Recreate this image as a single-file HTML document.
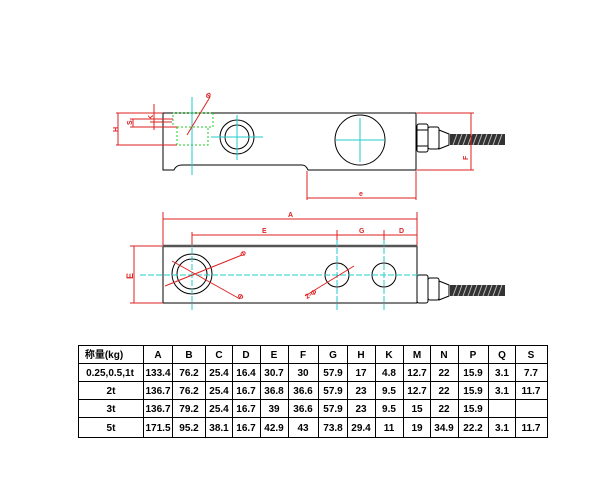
<!DOCTYPE html>
<html><head><meta charset="utf-8"><style>
html,body{margin:0;padding:0;background:#fff;width:600px;height:500px;overflow:hidden}
svg{display:block}
text{font-family:"Liberation Sans","Noto Sans CJK SC",sans-serif}
</style></head><body>
<svg width="600" height="500" viewBox="0 0 600 500" xmlns="http://www.w3.org/2000/svg">
<rect width="600" height="500" fill="#fff"/>
<g fill="none" stroke="#000" stroke-width="1">
<path d="M163 113 H416 V170 H308 Q306 165 302 165 H182 Q176 165 174 170 H163 Z"/>
<circle cx="237" cy="137" r="17"/>
<circle cx="237" cy="137" r="12"/>
<circle cx="360" cy="140" r="25"/>
</g>
<g fill="#fff" stroke="#000" stroke-width="1">
<rect x="417" y="124" width="11" height="28" rx="2"/>
<rect x="428" y="127" width="11" height="22" rx="2"/>
<path d="M439 130 L449 134 V145 L439 149 Z"/>
<line x1="417" y1="130" x2="428" y2="130"/><line x1="417" y1="146" x2="428" y2="146"/>
</g>
<rect x="450" y="134" width="55" height="11" fill="#333"/>
<g stroke="#bbb" stroke-width="1">
<path d="M453 145 L457 134 M458 145 L462 134 M463 145 L467 134 M468 145 L472 134 M473 145 L477 134 M478 145 L482 134 M483 145 L487 134 M488 145 L492 134 M493 145 L497 134 M498 145 L502 134"/>
</g>
<g fill="none" stroke="#2c2" stroke-width="1" stroke-dasharray="2,2">
<rect x="173" y="113" width="40" height="14"/>
<rect x="177" y="127" width="31" height="18"/>
</g>
<g stroke="#2cc" stroke-width="1">
<line x1="192" y1="97" x2="192" y2="175"/>
<line x1="237" y1="115" x2="237" y2="160"/><line x1="211" y1="137" x2="263" y2="137"/>
<line x1="360" y1="118" x2="360" y2="162"/><line x1="336" y1="140" x2="385" y2="140"/>
</g>
<g stroke="#d22" stroke-width="1" fill="none">
<line x1="187" y1="135" x2="210" y2="97"/>
<line x1="116" y1="113" x2="163" y2="113"/><line x1="116" y1="145" x2="177" y2="145"/>
<line x1="118" y1="113" x2="118" y2="145"/>
<line x1="130" y1="119" x2="173" y2="119"/><line x1="130" y1="127" x2="177" y2="127"/>
<line x1="133" y1="119" x2="133" y2="127"/>
<line x1="150" y1="122" x2="172" y2="122"/><line x1="150" y1="127" x2="165" y2="127"/>
<line x1="154" y1="104" x2="154" y2="130"/>
<line x1="417" y1="113" x2="474" y2="113"/><line x1="417" y1="170" x2="474" y2="170"/>
<line x1="471" y1="113" x2="471" y2="170"/>
<line x1="307" y1="171" x2="307" y2="200"/><line x1="416" y1="171" x2="416" y2="200"/>
<line x1="307" y1="198" x2="416" y2="198"/>
</g>
<g fill="#d22" font-size="7" font-weight="bold">
<text x="205" y="98" transform="rotate(-55 208 95)">Φ</text>
<text x="112" y="132" transform="rotate(-90 115 129)">H</text>
<text x="126" y="125" transform="rotate(-90 129 122)">S</text>
<text x="147" y="120" transform="rotate(-90 150 117)">K</text>
<text x="462" y="160" transform="rotate(-90 465 157)">F</text>
<text x="359" y="196">e</text>
</g>
<g fill="none" stroke="#000" stroke-width="1">
<rect x="163" y="246" width="254" height="57"/>
<circle cx="192" cy="274" r="20"/><circle cx="192" cy="274" r="15"/>
<circle cx="337" cy="275" r="12"/><circle cx="384" cy="275" r="12"/>
</g>
<line x1="163" y1="246" x2="417" y2="246" stroke="#555" stroke-width="2.5"/>
<g fill="#fff" stroke="#000" stroke-width="1">
<rect x="417" y="275" width="11" height="28" rx="2"/>
<rect x="428" y="278" width="11" height="22" rx="2"/>
<path d="M439 281 L449 285 V296 L439 300 Z"/>
</g>
<rect x="450" y="285" width="55" height="11" fill="#333"/>
<g stroke="#bbb" stroke-width="1">
<path d="M453 296 L457 285 M458 296 L462 285 M463 296 L467 285 M468 296 L472 285 M473 296 L477 285 M478 296 L482 285 M483 296 L487 285 M488 296 L492 285 M493 296 L497 285 M498 296 L502 285"/>
</g>
<g stroke="#2cc" stroke-width="1" stroke-dasharray="6,2">
<line x1="140" y1="275" x2="420" y2="275"/>
<line x1="192" y1="240" x2="192" y2="310"/>
<line x1="337" y1="240" x2="337" y2="310"/>
<line x1="384" y1="240" x2="384" y2="310"/>
</g>
<g stroke="#d22" stroke-width="1" fill="none">
<line x1="163" y1="212" x2="163" y2="245"/><line x1="417" y1="212" x2="417" y2="245"/>
<line x1="163" y1="219" x2="417" y2="219"/>
<line x1="192" y1="232" x2="192" y2="245"/>
<line x1="192" y1="235" x2="417" y2="235"/>
<line x1="337" y1="230" x2="337" y2="240"/><line x1="384" y1="230" x2="384" y2="240"/>
<line x1="130" y1="246" x2="163" y2="246"/><line x1="130" y1="303" x2="163" y2="303"/>
<line x1="134" y1="246" x2="134" y2="303"/>
<line x1="165" y1="286" x2="242" y2="255"/>
<line x1="172" y1="261" x2="240" y2="299"/>
<line x1="305" y1="296" x2="354" y2="266"/>
</g>
<g fill="#d22" font-size="7" font-weight="bold">
<text x="288" y="217">A</text>
<text x="262" y="233">E</text>
<text x="359" y="233">G</text>
<text x="399" y="233">D</text>
<text x="126" y="278" transform="rotate(-90 130 275)" font-size="9">E</text>
<text x="240" y="256" transform="rotate(-30 243 253)">Φ</text>
<text x="238" y="299" transform="rotate(30 241 296)">Φ</text>
<text x="305" y="298" transform="rotate(-30 308 295)">2-Φ</text>
</g>
<g stroke="#000" stroke-width="1" fill="none">
<rect x="78.5" y="345.5" width="469" height="92"/>
<line x1="78" y1="363.5" x2="547" y2="363.5"/>
<line x1="78" y1="381.5" x2="547" y2="381.5"/>
<line x1="78" y1="399.5" x2="547" y2="399.5"/>
<line x1="78" y1="417.5" x2="547" y2="417.5"/>
<line x1="143.5" y1="345" x2="143.5" y2="437"/>
<line x1="172.5" y1="345" x2="172.5" y2="437"/>
<line x1="205.5" y1="345" x2="205.5" y2="437"/>
<line x1="232.5" y1="345" x2="232.5" y2="437"/>
<line x1="260.5" y1="345" x2="260.5" y2="437"/>
<line x1="288.5" y1="345" x2="288.5" y2="437"/>
<line x1="318.5" y1="345" x2="318.5" y2="437"/>
<line x1="347.5" y1="345" x2="347.5" y2="437"/>
<line x1="375.5" y1="345" x2="375.5" y2="437"/>
<line x1="403.5" y1="345" x2="403.5" y2="437"/>
<line x1="430.5" y1="345" x2="430.5" y2="437"/>
<line x1="458.5" y1="345" x2="458.5" y2="437"/>
<line x1="488.5" y1="345" x2="488.5" y2="437"/>
<line x1="515.5" y1="345" x2="515.5" y2="437"/>
</g>
<g font-size="10" font-weight="bold" fill="#000" text-anchor="middle">
<text x="104" y="358">称量(kg)</text>
<text x="158" y="358">A</text><text x="189" y="358">B</text><text x="219" y="358">C</text><text x="246" y="358">D</text><text x="274" y="358">E</text><text x="303" y="358">F</text><text x="333" y="358">G</text><text x="361" y="358">H</text><text x="389" y="358">K</text><text x="417" y="358">M</text><text x="444" y="358">N</text><text x="473" y="358">P</text><text x="502" y="358">Q</text><text x="531" y="358">S</text>

<text x="110" y="376">0.25,0.5,1t</text>
<text x="158" y="376">133.4</text><text x="189" y="376">76.2</text><text x="219" y="376">25.4</text><text x="246" y="376">16.4</text><text x="274" y="376">30.7</text><text x="303" y="376">30</text><text x="333" y="376">57.9</text><text x="361" y="376">17</text><text x="389" y="376">4.8</text><text x="417" y="376">12.7</text><text x="444" y="376">22</text><text x="473" y="376">15.9</text><text x="502" y="376">3.1</text><text x="531" y="376">7.7</text>

<text x="111" y="394">2t</text>
<text x="158" y="394">136.7</text><text x="189" y="394">76.2</text><text x="219" y="394">25.4</text><text x="246" y="394">16.7</text><text x="274" y="394">36.8</text><text x="303" y="394">36.6</text><text x="333" y="394">57.9</text><text x="361" y="394">23</text><text x="389" y="394">9.5</text><text x="417" y="394">12.7</text><text x="444" y="394">22</text><text x="473" y="394">15.9</text><text x="502" y="394">3.1</text><text x="531" y="394">11.7</text>

<text x="111" y="412">3t</text>
<text x="158" y="412">136.7</text><text x="189" y="412">79.2</text><text x="219" y="412">25.4</text><text x="246" y="412">16.7</text><text x="274" y="412">39</text><text x="303" y="412">36.6</text><text x="333" y="412">57.9</text><text x="361" y="412">23</text><text x="389" y="412">9.5</text><text x="417" y="412">15</text><text x="444" y="412">22</text><text x="473" y="412">15.9</text>

<text x="111" y="431">5t</text>
<text x="158" y="431">171.5</text><text x="189" y="431">95.2</text><text x="219" y="431">38.1</text><text x="246" y="431">16.7</text><text x="274" y="431">42.9</text><text x="303" y="431">43</text><text x="333" y="431">73.8</text><text x="361" y="431">29.4</text><text x="389" y="431">11</text><text x="417" y="431">19</text><text x="444" y="431">34.9</text><text x="473" y="431">22.2</text><text x="502" y="431">3.1</text><text x="531" y="431">11.7</text>
</g>
</svg>
</body></html>
